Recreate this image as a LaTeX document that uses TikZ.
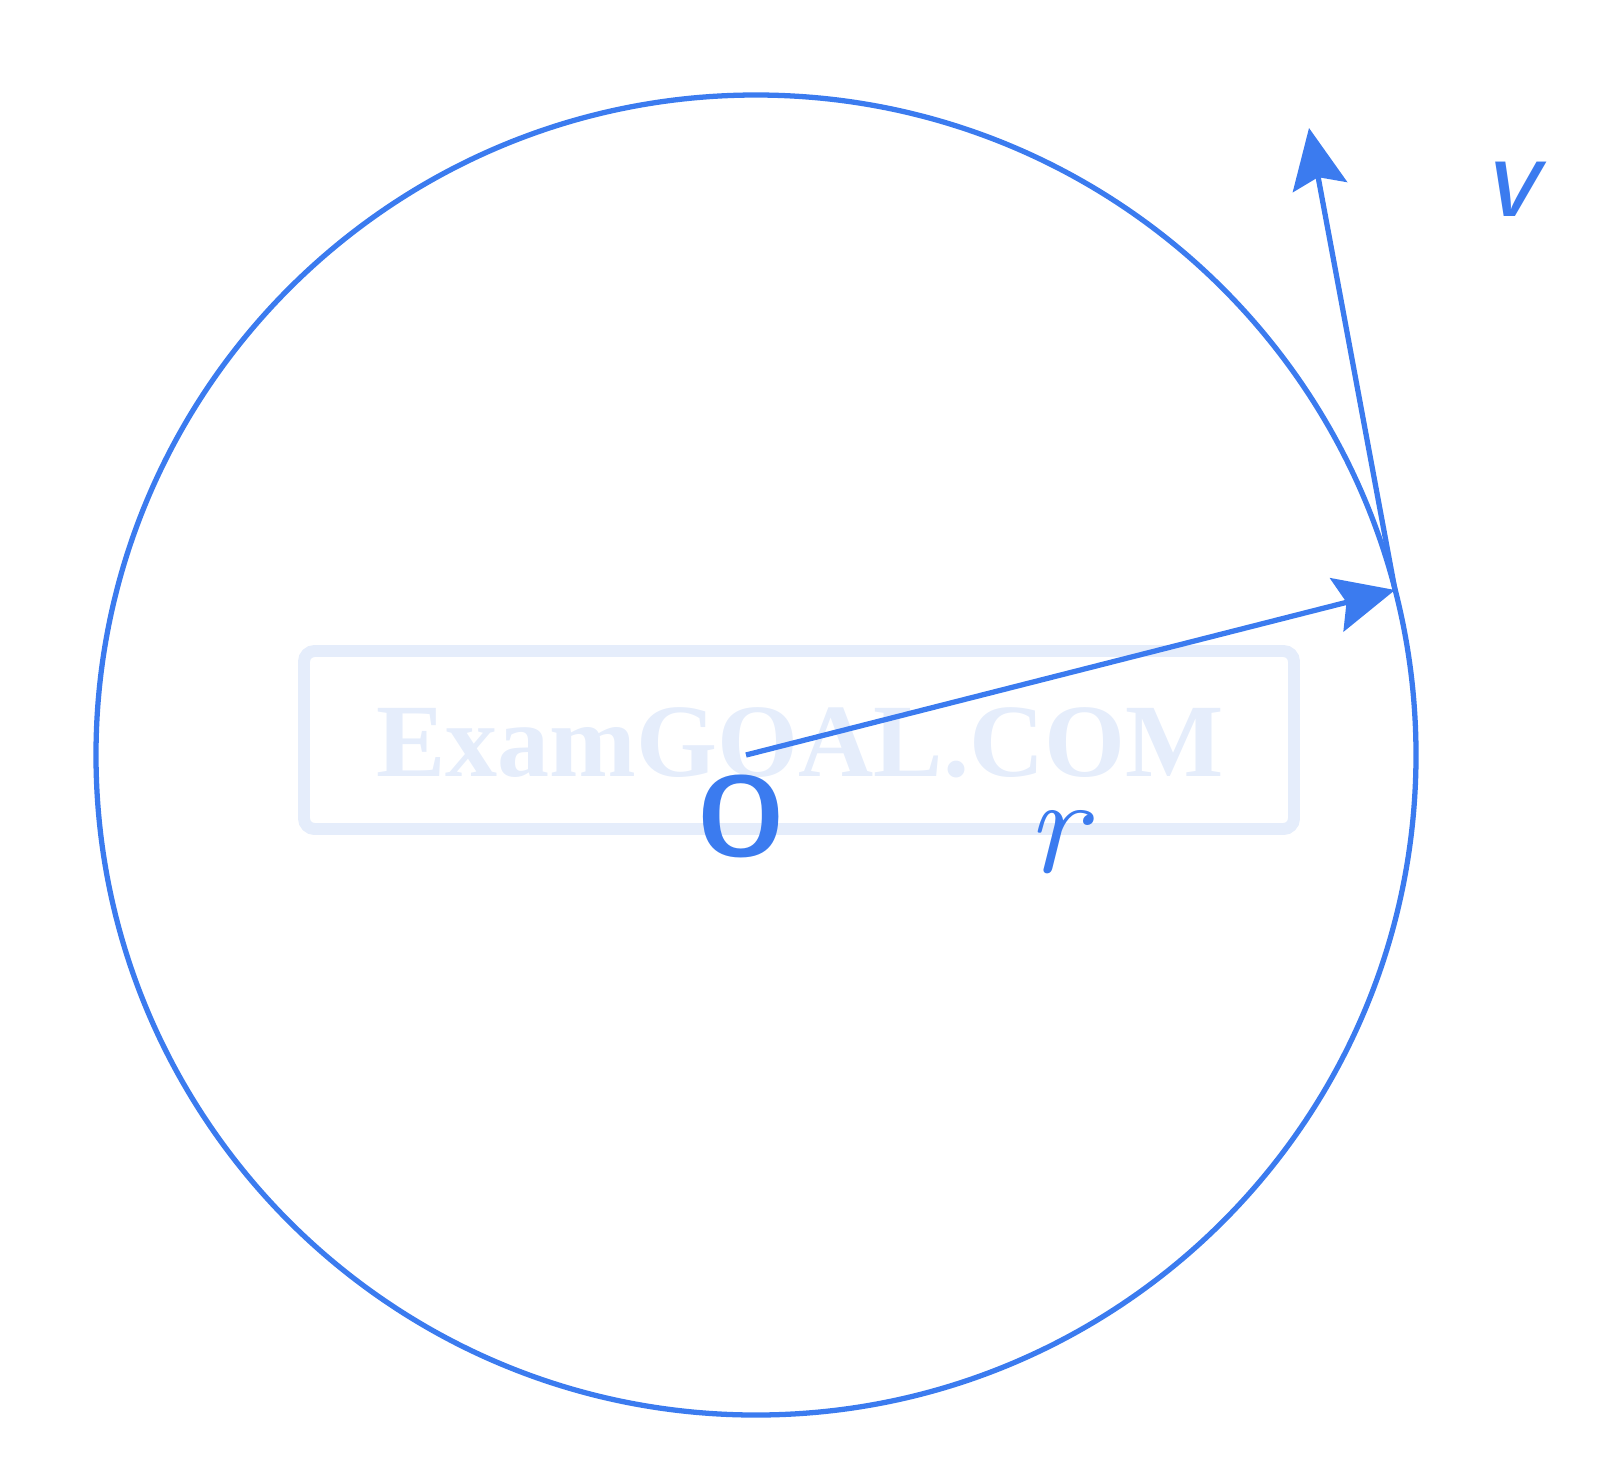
\documentclass[tikz,border=0pt]{standalone}
\usepackage{fontspec}
\usetikzlibrary{arrows.meta}
\newfontfamily\markfont{Liberation Serif}
\definecolor{penblue}{HTML}{3B7BEF}
\definecolor{markblue}{HTML}{E5EDFB}

\begin{document}
\begin{tikzpicture}[x = 0.01cm, y = -0.01cm,
    every path/.style = {line width = 1.5pt},
    vec/.style = {draw = penblue, -{Stealth[length = 6mm, width = 5.5mm, inset = 1mm]}},
    lbl/.style = {text = penblue, inner sep = 0pt}]

        \useasboundingbox (0, 0) rectangle (1600, 1481);

        % Faint stamp behind the drawing.
        \draw[markblue, line width = 3.4pt, rounded corners = 3pt] (304, 651) rectangle (1294, 829);
        \node[text = markblue, anchor = base] (stamp) at (800, 776)
            {\markfont\fontsize{29.6}{30}\selectfont\bfseries ExamGOAL.COM};

        % Centre, point on the rim and end of the velocity arrow.
        \coordinate (O) at (746, 755);
        \coordinate (P) at (1395, 590);
        \coordinate (V) at (1309, 128);

        % The circular path.
        \draw[penblue] (756, 755) circle (660);

        % Radius and velocity.
        \draw[vec] (O) -- (P);
        \draw[vec] (P) -- (V);

        % Labels.
        \node[lbl] (olabel) at (741, 816) {\sffamily\bfseries\fontsize{32}{32}\selectfont O};
        \node[lbl] (rlabel) at (1056, 842) {\fontsize{40}{40}\selectfont\itshape r};
        \node[lbl] (vlabel) at (1510, 189) {\sffamily\itshape\fontsize{36}{36}\selectfont v};
    \end{tikzpicture}
\end{document}
